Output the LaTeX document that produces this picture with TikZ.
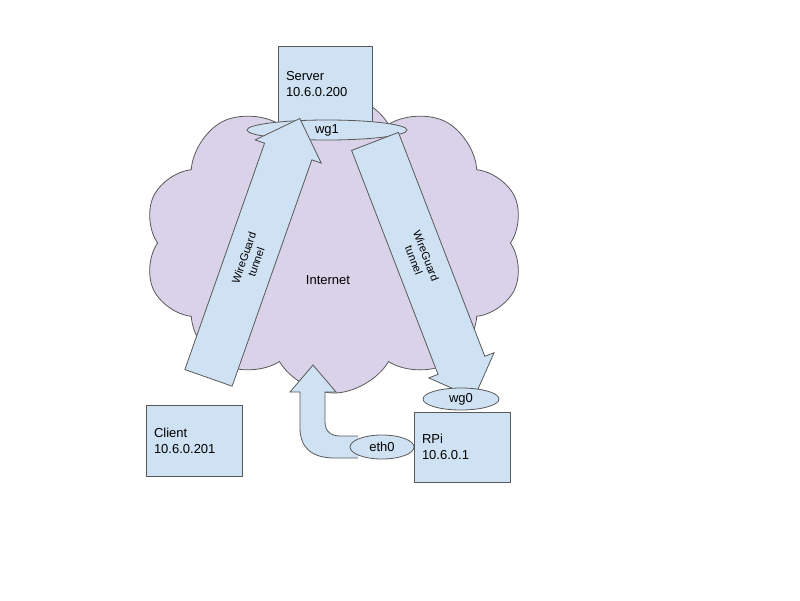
\documentclass[tikz,border=0pt]{standalone}
\usepackage{fontspec}
\setmainfont{Liberation Sans}
\usetikzlibrary{shapes.symbols,shapes.arrows,shapes.geometric}
\definecolor{boxblue}{HTML}{CFE2F3}
\definecolor{cloudlilac}{HTML}{D9D2E9}
\definecolor{edge}{HTML}{595959}
\begin{document}
\begin{tikzpicture}[x=1pt,y=-1pt,
  every node/.style={draw=edge,line width=0.8pt,font=\fontsize{13}{16}\selectfont},
  host/.style={rectangle,fill=boxblue,align=left,inner sep=8pt},
  iface/.style={ellipse,fill=boxblue,inner sep=0pt},
  tunnel/.style={single arrow,fill=boxblue,align=center,inner xsep=3pt,inner ysep=7pt,
    minimum width=70pt,font=\fontsize{11}{13}\selectfont,minimum height=275pt}]
  \useasboundingbox (0,0) rectangle (800,600);

  \node[cloud,cloud puffs=10,cloud puff arc=120,aspect=1.3,fill=cloudlilac,minimum width=380pt,minimum height=300pt] (net) at (334,243) {};
  \node[draw=none] (inet) at (328,280) {Internet};

  \node[host,minimum width=94pt,minimum height=76pt,text width=78pt] (server) at (325,84) {Server\\10.6.0.200};
  \node[iface,minimum width=160pt,minimum height=20pt] (wg1) at (327,130) {wg1};

  \node[tunnel,rotate=70.6] (tun1) at (250,260) {WireGuard\\tunnel};
  \node[tunnel,rotate=-68.9] (tun2) at (420,258) {WireGuard\\tunnel};

  \node[host,minimum width=96pt,minimum height=71pt,text width=80pt] (client) at (194,441) {Client\\10.6.0.201};
  \node[host,minimum width=96pt,minimum height=70pt,text width=80pt] (rpi) at (462,447) {RPi\\10.6.0.1};
  \node[iface,minimum width=76pt,minimum height=22pt] (wg0) at (461,399) {wg0};

  % uplink from eth0 into the cloud
  \draw[edge,line width=0.8pt,fill=boxblue] (358,458) -- (335,458)
    .. controls (312,458) and (300,448) .. (300,428) -- (300,392) -- (290,392) -- (313,365)
    -- (336,392) -- (325,392) -- (325,422) .. controls (325,432) and (332,436) .. (340,436) -- (358,436);
  \node[iface,minimum width=64pt,minimum height=24pt] (eth0) at (382,447) {eth0};
\end{tikzpicture}
\end{document}
